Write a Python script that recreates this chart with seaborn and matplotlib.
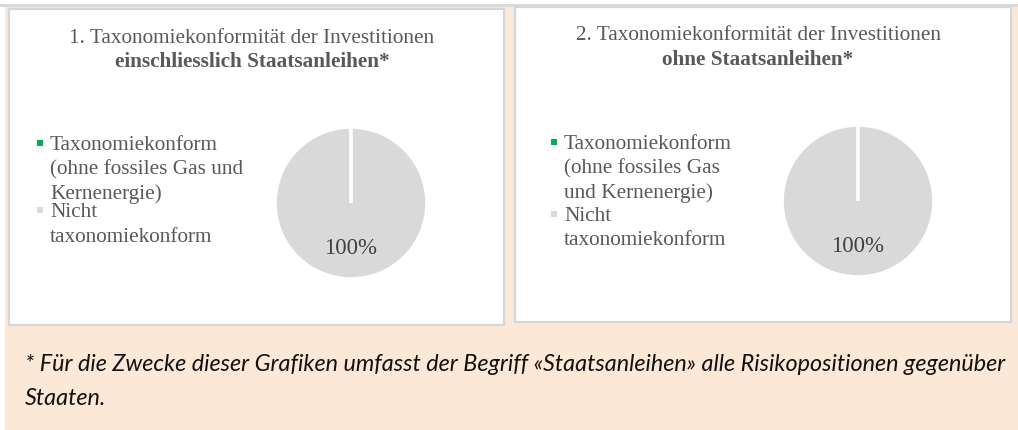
import matplotlib
matplotlib.use("Agg")
import matplotlib.pyplot as plt
from matplotlib.patches import Rectangle
import seaborn as sns

# --- data -------------------------------------------------------------
categories = ["Taxonomiekonform (ohne fossiles Gas und Kernenergie)",
              "Nicht taxonomiekonform"]
values_with_sov = [0, 100]      # 1. einschliesslich Staatsanleihen
values_without_sov = [0, 100]   # 2. ohne Staatsanleihen

title_lines_1 = ["1. Taxonomiekonformität der Investitionen",
                 "einschliesslich Staatsanleihen*"]
title_lines_2 = ["2. Taxonomiekonformität der Investitionen",
                 "ohne Staatsanleihen*"]

legend_lines_1 = [["Taxonomiekonform", "(ohne fossiles Gas und", "Kernenergie)"],
                  ["Nicht", "taxonomiekonform"]]
legend_lines_2 = [["Taxonomiekonform", "(ohne fossiles Gas", "und Kernenergie)"],
                  ["Nicht", "taxonomiekonform"]]

footnote_lines = ["* Für die Zwecke dieser Grafiken umfasst der Begriff "
                  "«Staatsanleihen» alle Risikopositionen gegenüber",
                  "Staaten."]

# --- style ------------------------------------------------------------
sns.set_theme(style="white")
plt.rcParams["font.family"] = ["Liberation Serif", "DejaVu Serif"]

colors = ["#00B050", "#D9D9D9"]
TEXT_GREY = "#595959"
PEACH = "#FBE8D7"
FRAME = "#D3D6DC"

W, H = 1018, 430
fig = plt.figure(figsize=(W / 100, H / 100), dpi=100)
fig.patch.set_facecolor("white")


def fx(x):
    return x / W


def fy(y):
    return 1 - y / H


def rect_px(x0, y0, x1, y1, **kw):
    r = Rectangle((fx(x0), fy(y1)), fx(x1) - fx(x0), (y1 - y0) / H,
                  transform=fig.transFigure, **kw)
    fig.add_artist(r)
    return r


# page background and frames
rect_px(0, 4, W, 7, facecolor="#D9D9D9", edgecolor="none", zorder=-5)
rect_px(5, 7, W, H, facecolor=PEACH, edgecolor="none", zorder=-5)
rect_px(8.5, 8.5, 504, 325, facecolor="white", edgecolor=FRAME,
        linewidth=1.6, zorder=-4)
rect_px(515, 6.5, 1011, 322, facecolor="white", edgecolor=FRAME,
        linewidth=1.6, zorder=-4)

FS = 15.3  # pt


def draw_panel(cx_title, title_lines, title_y, legend_x, legend_ys,
               legend_lines, pie_cx, pie_cy, radius, values):
    # title
    fig.text(fx(cx_title), fy(title_y[0]), title_lines[0], ha="center",
             va="baseline", fontsize=FS, color=TEXT_GREY)
    fig.text(fx(cx_title), fy(title_y[1]), title_lines[1], ha="center",
             va="baseline", fontsize=FS, color=TEXT_GREY, fontweight="bold")

    # legend: square marker beside first line of each entry
    for color, lines, ys in zip(colors, legend_lines, legend_ys):
        rect_px(legend_x - 13, ys[0] - 10, legend_x - 7, ys[0] - 4,
                facecolor=color, edgecolor="none", zorder=2)
        for line, y in zip(lines, ys):
            fig.text(fx(legend_x), fy(y), line, ha="left", va="baseline",
                     fontsize=FS, color=TEXT_GREY)

    # pie
    box = radius + 4
    ax = fig.add_axes([fx(pie_cx - box), fy(pie_cy + box),
                       2 * box / W, 2 * box / H])
    ax.set_facecolor("none")
    wedges, _, _ = ax.pie(
        values, colors=colors, startangle=90, counterclock=False,
        radius=radius / box,
        autopct=lambda p: f"{p:.0f}%" if p > 0 else "",
        pctdistance=0.6,
        wedgeprops=dict(edgecolor="white", linewidth=2.6),
        textprops=dict(fontsize=FS + 1.2, color="#404040"))
    # empty slices collapse to a radial separator line; keep it visible
    for w, v in zip(wedges, values):
        if v == 0:
            w.set_zorder(3)
    ax.set_xlim(-1, 1)
    ax.set_ylim(-1, 1)
    ax.set_aspect("equal")
    ax.axis("off")


draw_panel(252, title_lines_1, (43, 67), 50,
           [(150, 174, 199), (217, 242)], legend_lines_1,
           351, 203, 76, values_with_sov)
draw_panel(758, title_lines_2, (40, 65), 564,
           [(149, 173, 198), (221, 245)], legend_lines_2,
           858, 201, 76, values_without_sov)

# footnote
for line, y in zip(footnote_lines, (371, 405)):
    fig.text(fx(25), fy(y), line, ha="left", va="baseline",
             fontsize=16.8, style="italic", color="#111111",
             family=["Lato", "DejaVu Sans"])

fig.savefig("out.png", dpi=100)
